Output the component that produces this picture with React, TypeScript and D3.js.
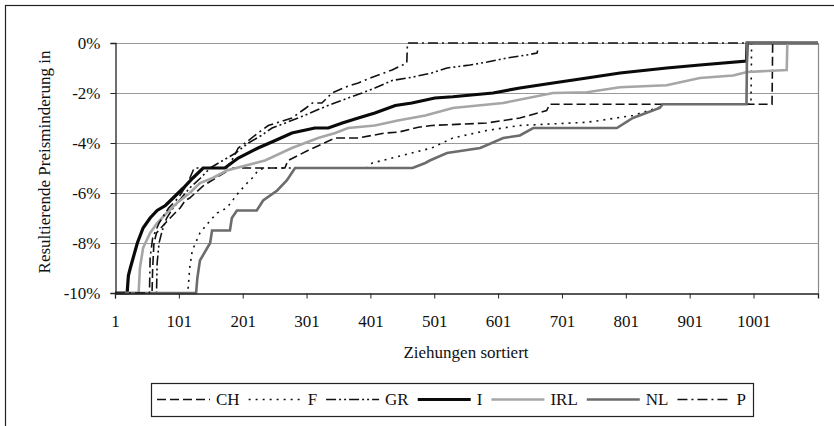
import { useEffect, useRef } from "react";
import * as d3 from "d3";

// sortierte Ziehungen je Land: [Ziehung, Preisminderung in %]
const chPoints: [number, number][] = [
  [1, -10], [59, -10], [60, -9.0], [62, -8.0], [66, -7.6], [80, -7.2], [95, -6.8], [103, -6.6],
  [111, -6.3], [118, -6.2], [140, -5.7], [165, -5.3], [186, -5.0], [267, -5.0], [272, -4.7],
  [303, -4.3], [346, -3.8], [382, -3.8], [424, -3.6], [444, -3.57], [476, -3.37], [497, -3.3],
  [583, -3.2], [635, -3.0], [677, -2.7], [682, -2.45], [1030, -2.45], [1031, 0], [1102, 0],
];
const fPoints: [number, number][] = [
  [1, -10], [115, -10], [118, -9.0], [122, -8.3], [134, -7.6], [150, -7.1], [161, -6.8],
  [176, -6.6], [194, -6.0], [208, -5.6], [216, -5.4], [225, -5.1], [235, -5.0], [395, -5.0],
  [404, -4.8], [435, -4.6], [466, -4.4], [497, -4.2], [530, -3.8], [583, -3.5], [635, -3.3],
  [740, -3.17], [760, -3.1], [812, -2.9], [854, -2.57], [860, -2.45], [997, -2.45], [998, 0], [1102, 0],
];
const grPoints: [number, number][] = [
  [1, -10], [66, -10], [67, -8.8], [70, -8.0], [75, -7.5], [82, -7.0], [92, -6.6], [105, -6.2],
  [118, -5.8], [135, -5.4], [150, -5.0], [170, -4.7], [190, -4.4], [210, -4.0], [230, -3.7],
  [247, -3.4], [288, -3.0], [325, -2.6], [345, -2.4], [366, -2.2], [388, -2.0], [408, -1.8],
  [435, -1.5], [466, -1.37], [497, -1.2], [521, -1.0], [557, -0.88], [584, -0.76], [615, -0.6],
  [646, -0.48], [662, -0.4], [663, -0.3],
];
const iPoints: [number, number][] = [
  [1, -10], [20, -10], [22, -9.3], [25, -9.0], [36, -8.0], [45, -7.4], [56, -7.0], [67, -6.7],
  [80, -6.5], [92, -6.2], [108, -5.8], [123, -5.4], [139, -5.0], [173, -5.0], [194, -4.6],
  [225, -4.2], [252, -3.9], [278, -3.6], [314, -3.4], [335, -3.4], [357, -3.2], [382, -3.0],
  [408, -2.8], [440, -2.5], [466, -2.4], [502, -2.2], [530, -2.15], [593, -2.0], [635, -1.8],
  [687, -1.6], [740, -1.4], [792, -1.2], [865, -1.0], [917, -0.88], [990, -0.72], [991, 0], [1102, 0],
];
const irlPoints: [number, number][] = [
  [1, -10], [38, -10], [40, -9.0], [45, -8.2], [56, -7.6], [67, -7.2], [82, -6.8], [98, -6.4],
  [118, -6.0], [134, -5.6], [154, -5.4], [176, -5.1], [236, -4.7], [278, -4.2], [319, -3.8],
  [346, -3.6], [366, -3.4], [408, -3.3], [444, -3.1], [487, -2.9], [530, -2.6], [609, -2.4],
  [687, -2.0], [740, -1.97], [792, -1.77], [865, -1.69], [917, -1.4], [969, -1.3], [991, -1.16],
  [1053, -1.08], [1054, 0], [1102, 0],
];
const nlPoints: [number, number][] = [
  [1, -10], [128, -10], [130, -9.4], [134, -8.7], [150, -8.0], [153, -7.5], [181, -7.5],
  [184, -7.0], [192, -6.7], [223, -6.7], [233, -6.3], [255, -5.9], [270, -5.5], [283, -5.0],
  [467, -5.0], [487, -4.8], [494, -4.7], [521, -4.4], [573, -4.2], [609, -3.8], [635, -3.7],
  [656, -3.4], [787, -3.4], [812, -3.0], [854, -2.6], [859, -2.45], [990, -2.45], [991, 0], [1102, 0],
];
const pPoints: [number, number][] = [
  [1, -10], [55, -10], [56, -8.6], [60, -7.8], [70, -7.2], [85, -6.6], [100, -6.2], [115, -5.6],
  [125, -5.0], [176, -5.0], [186, -4.6], [194, -4.2], [205, -4.0], [225, -3.6], [241, -3.3],
  [278, -3.0], [300, -2.6], [310, -2.4], [325, -2.4], [341, -2.0], [361, -1.77], [382, -1.6],
  [404, -1.37], [435, -1.08], [458, -0.8], [459, 0], [993, 0],
];

const seriesNames = ["CH", "F", "GR", "I", "IRL", "NL", "P"];
const seriesPoints = [chPoints, fPoints, grPoints, iPoints, irlPoints, nlPoints, pPoints];

const xTicks = [1, 101, 201, 301, 401, 501, 601, 701, 801, 901, 1001];
const yTicks = [0, -2, -4, -6, -8, -10];

const lineStyles: Record<string, { stroke: string; width: number; dash: string | null }> = {
  CH: { stroke: "#111", width: 1.6, dash: "9,4" },
  F: { stroke: "#111", width: 1.6, dash: "2,5" },
  GR: { stroke: "#111", width: 1.6, dash: "10,3,2,3,2,3" },
  I: { stroke: "#0a0a0a", width: 3.2, dash: null },
  IRL: { stroke: "#a6a6a6", width: 2.6, dash: null },
  NL: { stroke: "#6c6c6c", width: 2.6, dash: null },
  P: { stroke: "#111", width: 1.6, dash: "10,4,2,4" },
};

const FONT = "'Liberation Serif', 'Times New Roman', serif";

function App() {
  const svgRef = useRef<SVGSVGElement>(null);

  useEffect(() => {
    const svgElement = svgRef.current;
    if (!svgElement) return;

    const W = 834;
    const H = 426;
    const plot = { left: 115, top: 43, right: 818, bottom: 293 };

    const svg = d3.select(svgElement).attr("width", W).attr("height", H);

    svg.append("rect").attr("width", W).attr("height", H).attr("fill", "#fff");
    // äußerer Rahmen (rechts/unten abgeschnitten)
    svg
      .append("rect")
      .attr("x", 5.5)
      .attr("y", 5.5)
      .attr("width", 900)
      .attr("height", 600)
      .attr("fill", "none")
      .attr("stroke", "#222")
      .attr("stroke-width", 1.2);

    const x = d3.scaleLinear().domain([1, 1102]).range([plot.left, plot.right]);
    const y = d3.scaleLinear().domain([-10, 0]).range([plot.bottom, plot.top]);

    // Gitterlinien
    svg
      .append("g")
      .selectAll("line")
      .data(yTicks.filter((d) => d !== -10))
      .enter()
      .append("line")
      .attr("x1", plot.left)
      .attr("x2", plot.right)
      .attr("y1", (d) => y(d) + 0.5)
      .attr("y2", (d) => y(d) + 0.5)
      .attr("stroke", "#9a9a9a")
      .attr("stroke-width", 1);

    svg
      .append("line")
      .attr("x1", plot.right + 0.5)
      .attr("x2", plot.right + 0.5)
      .attr("y1", plot.top)
      .attr("y2", plot.bottom)
      .attr("stroke", "#8a8a8a")
      .attr("stroke-width", 1.2);

    // Linien
    const line = d3
      .line<[number, number]>()
      .x((d) => x(d[0]))
      .y((d) => y(d[1]));

    seriesNames.forEach((name, i) => {
      const st = lineStyles[name];
      svg
        .append("path")
        .datum(seriesPoints[i])
        .attr("d", line)
        .attr("fill", "none")
        .attr("stroke", st.stroke)
        .attr("stroke-width", st.width)
        .attr("stroke-dasharray", st.dash)
        .attr("stroke-linejoin", "miter");
    });

    // Achsen
    const yAxis = svg
      .append("g")
      .attr("transform", `translate(${plot.left + 0.5},0)`)
      .call(
        d3
          .axisLeft(y)
          .tickValues(yTicks)
          .tickFormat((d) => `${d}%`)
          .tickSize(5)
          .tickPadding(10)
      );

    const xAxis = svg
      .append("g")
      .attr("transform", `translate(0,${plot.bottom + 0.5})`)
      .call(
        d3
          .axisBottom(x)
          .tickValues(xTicks)
          .tickFormat((d) => `${d}`)
          .tickSize(5)
          .tickPadding(16)
      );

    [yAxis, xAxis].forEach((ax) => {
      ax.attr("font-family", FONT).attr("font-size", 17);
      ax.selectAll("text").attr("fill", "#111");
      ax.selectAll("line").attr("stroke", "#222");
      ax.select(".domain").attr("stroke", "#222").attr("stroke-width", 1.3);
    });

    // Achsentitel
    svg
      .append("text")
      .attr("transform", "translate(50,162) rotate(-90)")
      .attr("text-anchor", "middle")
      .attr("font-family", FONT)
      .attr("font-size", 17)
      .attr("fill", "#111")
      .text("Resultierende Preisminderung in");

    svg
      .append("text")
      .attr("x", 466)
      .attr("y", 358)
      .attr("text-anchor", "middle")
      .attr("font-family", FONT)
      .attr("font-size", 17)
      .attr("fill", "#111")
      .text("Ziehungen sortiert");

    // Legende
    const legend = svg.append("g");
    legend
      .append("rect")
      .attr("x", 151.5)
      .attr("y", 383.5)
      .attr("width", 602)
      .attr("height", 33)
      .attr("fill", "#fff")
      .attr("stroke", "#222")
      .attr("stroke-width", 1.2);

    let cursor = 157;
    seriesNames.forEach((name) => {
      const st = lineStyles[name];
      legend
        .append("line")
        .attr("x1", cursor)
        .attr("x2", cursor + 53)
        .attr("y1", 399.5)
        .attr("y2", 399.5)
        .attr("stroke", st.stroke)
        .attr("stroke-width", st.width)
        .attr("stroke-dasharray", st.dash);
      const t = legend
        .append("text")
        .attr("x", cursor + 59)
        .attr("y", 405)
        .attr("font-family", FONT)
        .attr("font-size", 17)
        .attr("fill", "#111")
        .text(name);
      const w = (t.node() as SVGTextElement).getComputedTextLength();
      cursor = cursor + 59 + w + 9;
    });

    return () => {
      d3.select(svgElement).selectAll("*").remove();
    };
  }, []);

  return (
    <svg
      ref={svgRef}
      style={{ position: "absolute", left: 0, top: 0, display: "block" }}
    ></svg>
  );
}

export default App;
